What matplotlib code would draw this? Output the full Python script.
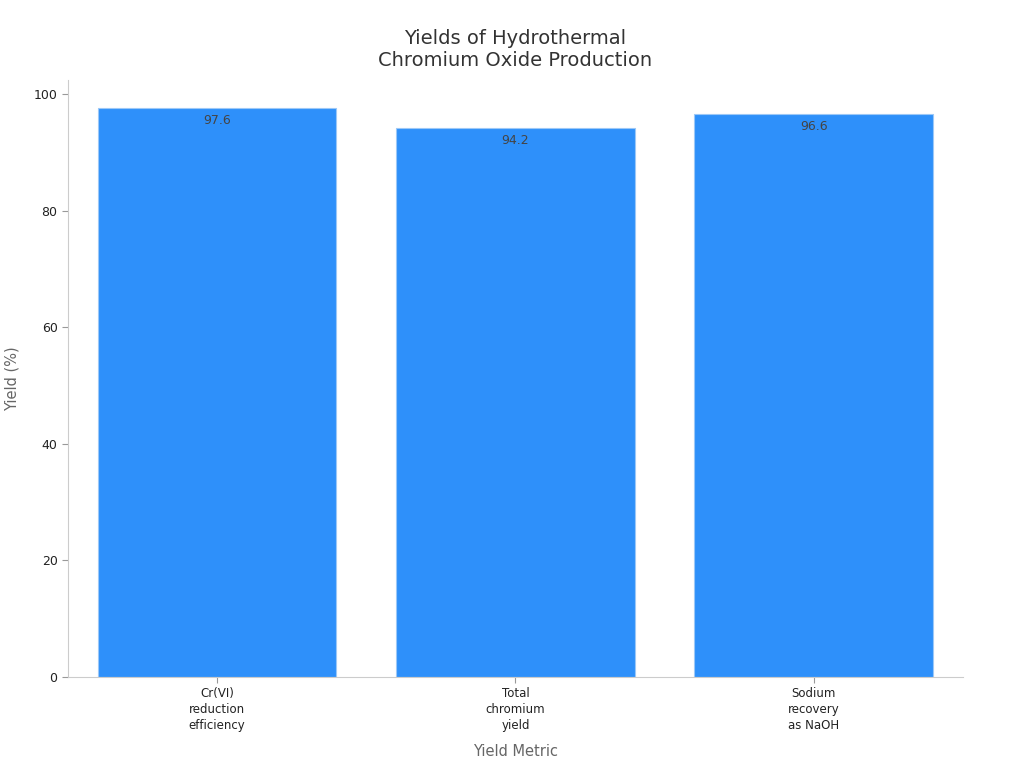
import numpy as np
import matplotlib.pyplot as plt

plt.rcParams['font.family'] = ['DejaVu Sans']

# 数据
categories = ['Cr(VI)\nreduction\nefficiency', 'Total\nchromium\nyield', 'Sodium\nrecovery\nas NaOH']
yields = [97.6, 94.2, 96.6]

fig = plt.figure(figsize=(10.24, 7.68), dpi=100)
ax = fig.add_axes([0.0664, 0.1185, 0.874, 0.7773])

x = np.arange(len(categories))
bars = ax.bar(x, yields, width=0.8, color='#2E90FA', edgecolor='#9cc8f7', linewidth=0.8)

# 数值标签
for xi, v in zip(x, yields):
    ax.annotate(f'{v}', (xi, v), xytext=(0, -4), textcoords='offset points',
                ha='center', va='top', fontsize=9, color='#444444')

ax.set_xlim(-0.5, 2.5)
ax.set_ylim(0, max(yields) * 1.05)
ax.set_yticks([0, 20, 40, 60, 80, 100])
ax.set_xticks(x)
ax.set_xticklabels(categories, fontsize=8.5, color='#222222', linespacing=1.3)
ax.tick_params(axis='y', labelsize=9, colors='#222222', length=4, color='#999999')
ax.tick_params(axis='x', length=4, color='#999999')

for s in ['top', 'right']:
    ax.spines[s].set_visible(False)
for s in ['left', 'bottom']:
    ax.spines[s].set_color('#cccccc')

ax.set_xlabel('Yield Metric', fontsize=10.5, color='#666666', labelpad=8)
ax.set_ylabel('Yield (%)', fontsize=10.5, color='#666666', labelpad=10)
ax.set_title('Yields of Hydrothermal\nChromium Oxide Production', fontsize=14, color='#333333', pad=10)

fig.savefig('out.png', dpi=100)
